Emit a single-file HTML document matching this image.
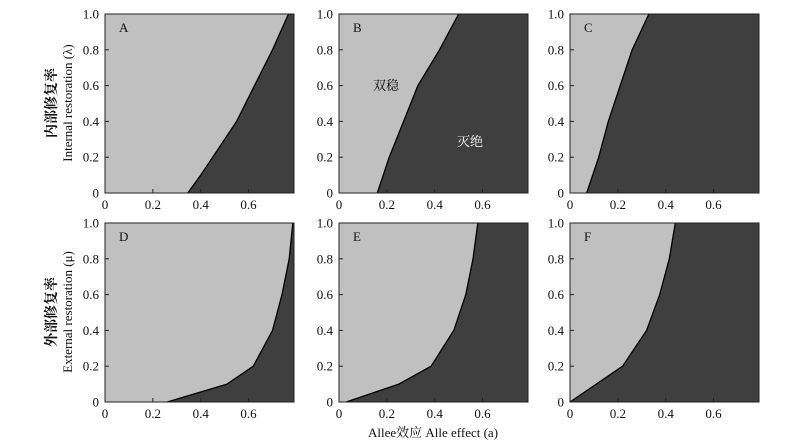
<!DOCTYPE html>
<html><head><meta charset="utf-8"><style>
body{margin:0;background:#fff}
svg{display:block;font-family:"Liberation Serif","Noto Serif CJK SC",serif}
</style></head><body>
<svg id="c" width="800" height="447"></svg>
<script>
const xTicks=[0,0.2,0.4,0.6];
const yTicks=[0,0.2,0.4,0.6,0.8,1.0];
const yTickLabels=["0","0.2","0.4","0.6","0.8","1.0"];
const xTickLabels=["0","0.2","0.4","0.6"];
const panelNames=["A","B","C","D","E","F"];
const levels=[0,0.1,0.2,0.4,0.6,0.8,1.0];
const curveA=[0.346,0.40,0.45,0.55,0.625,0.70,0.767];
const curveB=[0.16,0.185,0.21,0.27,0.33,0.42,0.50];
const curveC=[0.07,0.095,0.12,0.16,0.21,0.26,0.33];
const curveD=[0.26,0.51,0.62,0.70,0.74,0.77,0.785];
const curveE=[0.03,0.25,0.385,0.48,0.53,0.56,0.58];
const curveF=[-0.02,0.11,0.22,0.32,0.375,0.415,0.44];
const curves=[curveA,curveB,curveC,curveD,curveE,curveF];
const XMAX=0.79;
const lefts=[105,339,570],tops=[14,223],W=189,H=179;
const NS="http://www.w3.org/2000/svg";
const svg=document.getElementById('c');
function mk(t,a,p){const e=document.createElementNS(NS,t);for(const k in a)e.setAttribute(k,a[k]);(p||svg).appendChild(e);return e;}
panelNames.forEach((nm,i)=>{
  const L=lefts[i%3],T=tops[Math.floor(i/3)];
  const sx=v=>L+v/XMAX*W, sy=v=>T+H-v*H;
  const g=mk('g',{});
  
  
  const bg=mk('rect',{x:L,y:T,width:W,height:H,fill:'#3f3f3f'},g);
  
  
  const cv=curves[i];
  let d='M'+L+','+sy(0);
  let line='';
  levels.forEach((lv,j)=>{const x=Math.max(L,sx(cv[j]));const pt=x.toFixed(1)+','+sy(lv).toFixed(1);d+=' L'+pt;line+=(j?' L':'M')+pt;});
  d+=' L'+L+','+T+' Z';
  const bi=mk('path',{d:d,fill:'#c0c0c0'},g);
  
  
  const bd=mk('path',{d:line,fill:'none',stroke:'#000','stroke-width':1.3},g);
  
  
  mk('rect',{x:L,y:T,width:W,height:H,fill:'none',stroke:'#222','stroke-width':1},g);
  yTicks.forEach((v,j)=>{
    mk('line',{x1:L,x2:L+4,y1:sy(v),y2:sy(v),stroke:'#222'},g);
    const t=mk('text',{x:L-6,y:sy(v)+4.5,'text-anchor':'end','font-size':13,fill:'#111'},g);
    t.textContent=yTickLabels[j];
    
    
  });
  xTicks.forEach((v,j)=>{
    mk('line',{x1:sx(v),x2:sx(v),y1:T+H,y2:T+H-4,stroke:'#222'},g);
    const t=mk('text',{x:sx(v),y:T+H+16,'text-anchor':'middle','font-size':13,fill:'#111'},g);
    t.textContent=xTickLabels[j];
    
    
  });
  const lt=mk('text',{x:L+14,y:T+18,'font-size':13,fill:'#111'},g);
  lt.textContent=nm;
  
  
});
function txt(s,a,name){const t=mk('text',a);t.textContent=s;return t;}
txt('双稳',{x:386,y:90,'text-anchor':'middle','font-size':13,fill:'#111'},'bistable-label');
txt('灭绝',{x:470,y:146,'text-anchor':'middle','font-size':13,fill:'#fff'},'extinction-label');
txt('内部修复率',{x:0,y:0,transform:'translate(56,103) rotate(-90)','text-anchor':'middle','font-size':14,'font-weight':'bold',fill:'#111'},'y-axis-title-cn-top');
txt('Internal restoration (λ)',{x:0,y:0,transform:'translate(72,103) rotate(-90)','text-anchor':'middle','font-size':13,fill:'#111'},'y-axis-title-top');
txt('外部修复率',{x:0,y:0,transform:'translate(56,312) rotate(-90)','text-anchor':'middle','font-size':14,'font-weight':'bold',fill:'#111'},'y-axis-title-cn-bottom');
txt('External restoration (μ)',{x:0,y:0,transform:'translate(72,312) rotate(-90)','text-anchor':'middle','font-size':13,fill:'#111'},'y-axis-title-bottom');
txt('Allee效应  Alle effect (a)',{x:433,y:437,'text-anchor':'middle','font-size':13,fill:'#111'},'x-axis-title');
</script>
</body></html>
